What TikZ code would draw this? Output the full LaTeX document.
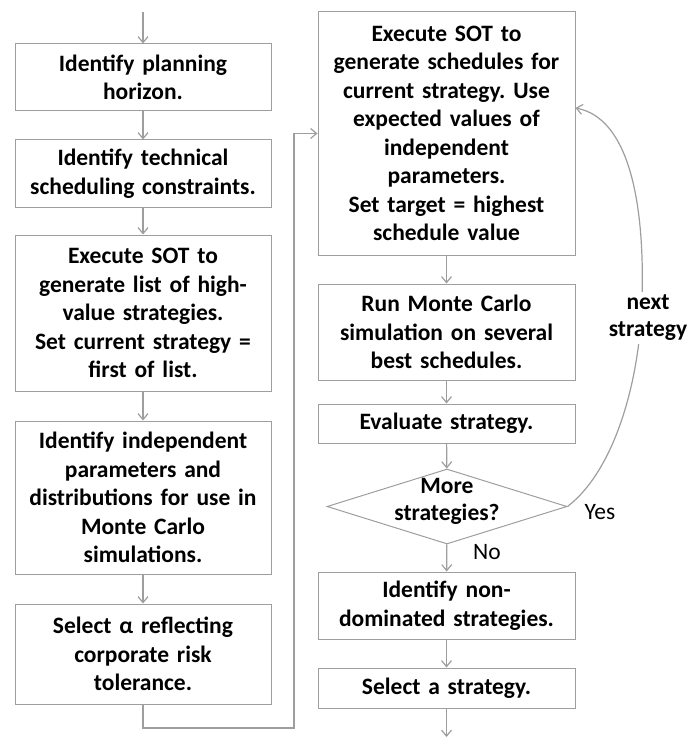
\documentclass[tikz,border=0pt]{standalone}
\usepackage{fontspec}
\setmainfont{Carlito}
\usetikzlibrary{shapes.geometric,arrows.meta}
\frenchspacing
\begin{document}
\begin{tikzpicture}[x=1pt,y=-1pt,
  stepbox/.style={draw=black!38,line width=1pt,fill=white,text width=250pt,align=center,
    minimum width=256pt,inner sep=0pt,font=\bfseries\fontsize{23.5}{28.5}\selectfont},
  decision/.style={diamond,draw=black!38,line width=1pt,minimum width=240pt,
    minimum height=75pt,inner sep=0pt},
  flow/.style={draw=black!38,line width=1.2pt,-{Straight Barb[length=6pt,width=10pt]}},
  lbl/.style={font=\fontsize{23.5}{27}\selectfont}]

\useasboundingbox (0,0) rectangle (691,738);

\node[stepbox,minimum height=67pt] (plan) at (143,77.5) {Identify planning\\horizon.};
\node[stepbox,minimum height=67pt] (cons) at (143,173.5) {Identify technical\\scheduling constraints.};
\node[stepbox,minimum height=156pt] (list) at (143,313) {Execute SOT to\\generate list of high-\\value strategies.\\Set current strategy =\\first of list.};
\node[stepbox,minimum height=153pt] (dist) at (143,497.5) {Identify independent\\parameters and\\distributions for use in\\Monte Carlo\\simulations.};
\node[stepbox,minimum height=100pt] (alpha) at (143,654) {Select α reflecting\\corporate risk\\tolerance.};

\node[stepbox,minimum width=257pt,minimum height=243pt] (sched) at (446.5,133.5) {Execute SOT to\\generate schedules for\\current strategy. Use\\expected values of\\independent\\parameters.\\Set target = highest\\schedule value};
\node[stepbox,minimum width=257pt,minimum height=96pt] (mc) at (446.5,332) {Run Monte Carlo\\simulation on several\\best schedules.};
\node[stepbox,minimum width=257pt,minimum height=39pt] (eval) at (446.5,423.5) {Evaluate strategy.};
\node[decision,label={[align=center,yshift=5pt,font=\bfseries\fontsize{23.5}{27}\selectfont]center:More\\strategies?}] (more) at (447,506.5) {};
\node[stepbox,minimum width=257pt,minimum height=67pt] (nondom) at (446.5,605.5) {Identify non-\\dominated strategies.};
\node[stepbox,minimum width=257pt,minimum height=40pt] (pick) at (446.5,688) {Select a strategy.};

\coordinate (start) at (143,12);
\coordinate (stop) at (446.5,737);
\coordinate (low) at (294,728);

\draw[flow] (start) -- (plan);
\draw[flow] (plan) -- (cons);
\draw[flow] (cons) -- (list);
\draw[flow] (list) -- (dist);
\draw[flow] (dist) -- (alpha);
\draw[flow] (alpha.south) |- (low) |- (sched.west);
\draw[flow] (sched) -- (mc);
\draw[flow] (mc) -- (eval);
\draw[flow] (eval) -- (more);
\draw[flow] (more) -- (nondom);
\draw[flow] (nondom) -- (pick);
\draw[flow] (pick) -- (stop);

\draw[flow] (more.east) .. controls (615,470) and (640,380) .. (642,300)
  .. controls (645,200) and (628,118) .. ([yshift=25.5pt]sched.east);

\node[lbl,fill=white,align=center,inner sep=3pt,font=\bfseries\fontsize{23.5}{27}\selectfont] (next) at (648,318) {next\\strategy};
\node[lbl] (yes) at (600,512) {Yes};
\node[lbl] (no) at (487,552) {No};

\end{tikzpicture}
\end{document}
